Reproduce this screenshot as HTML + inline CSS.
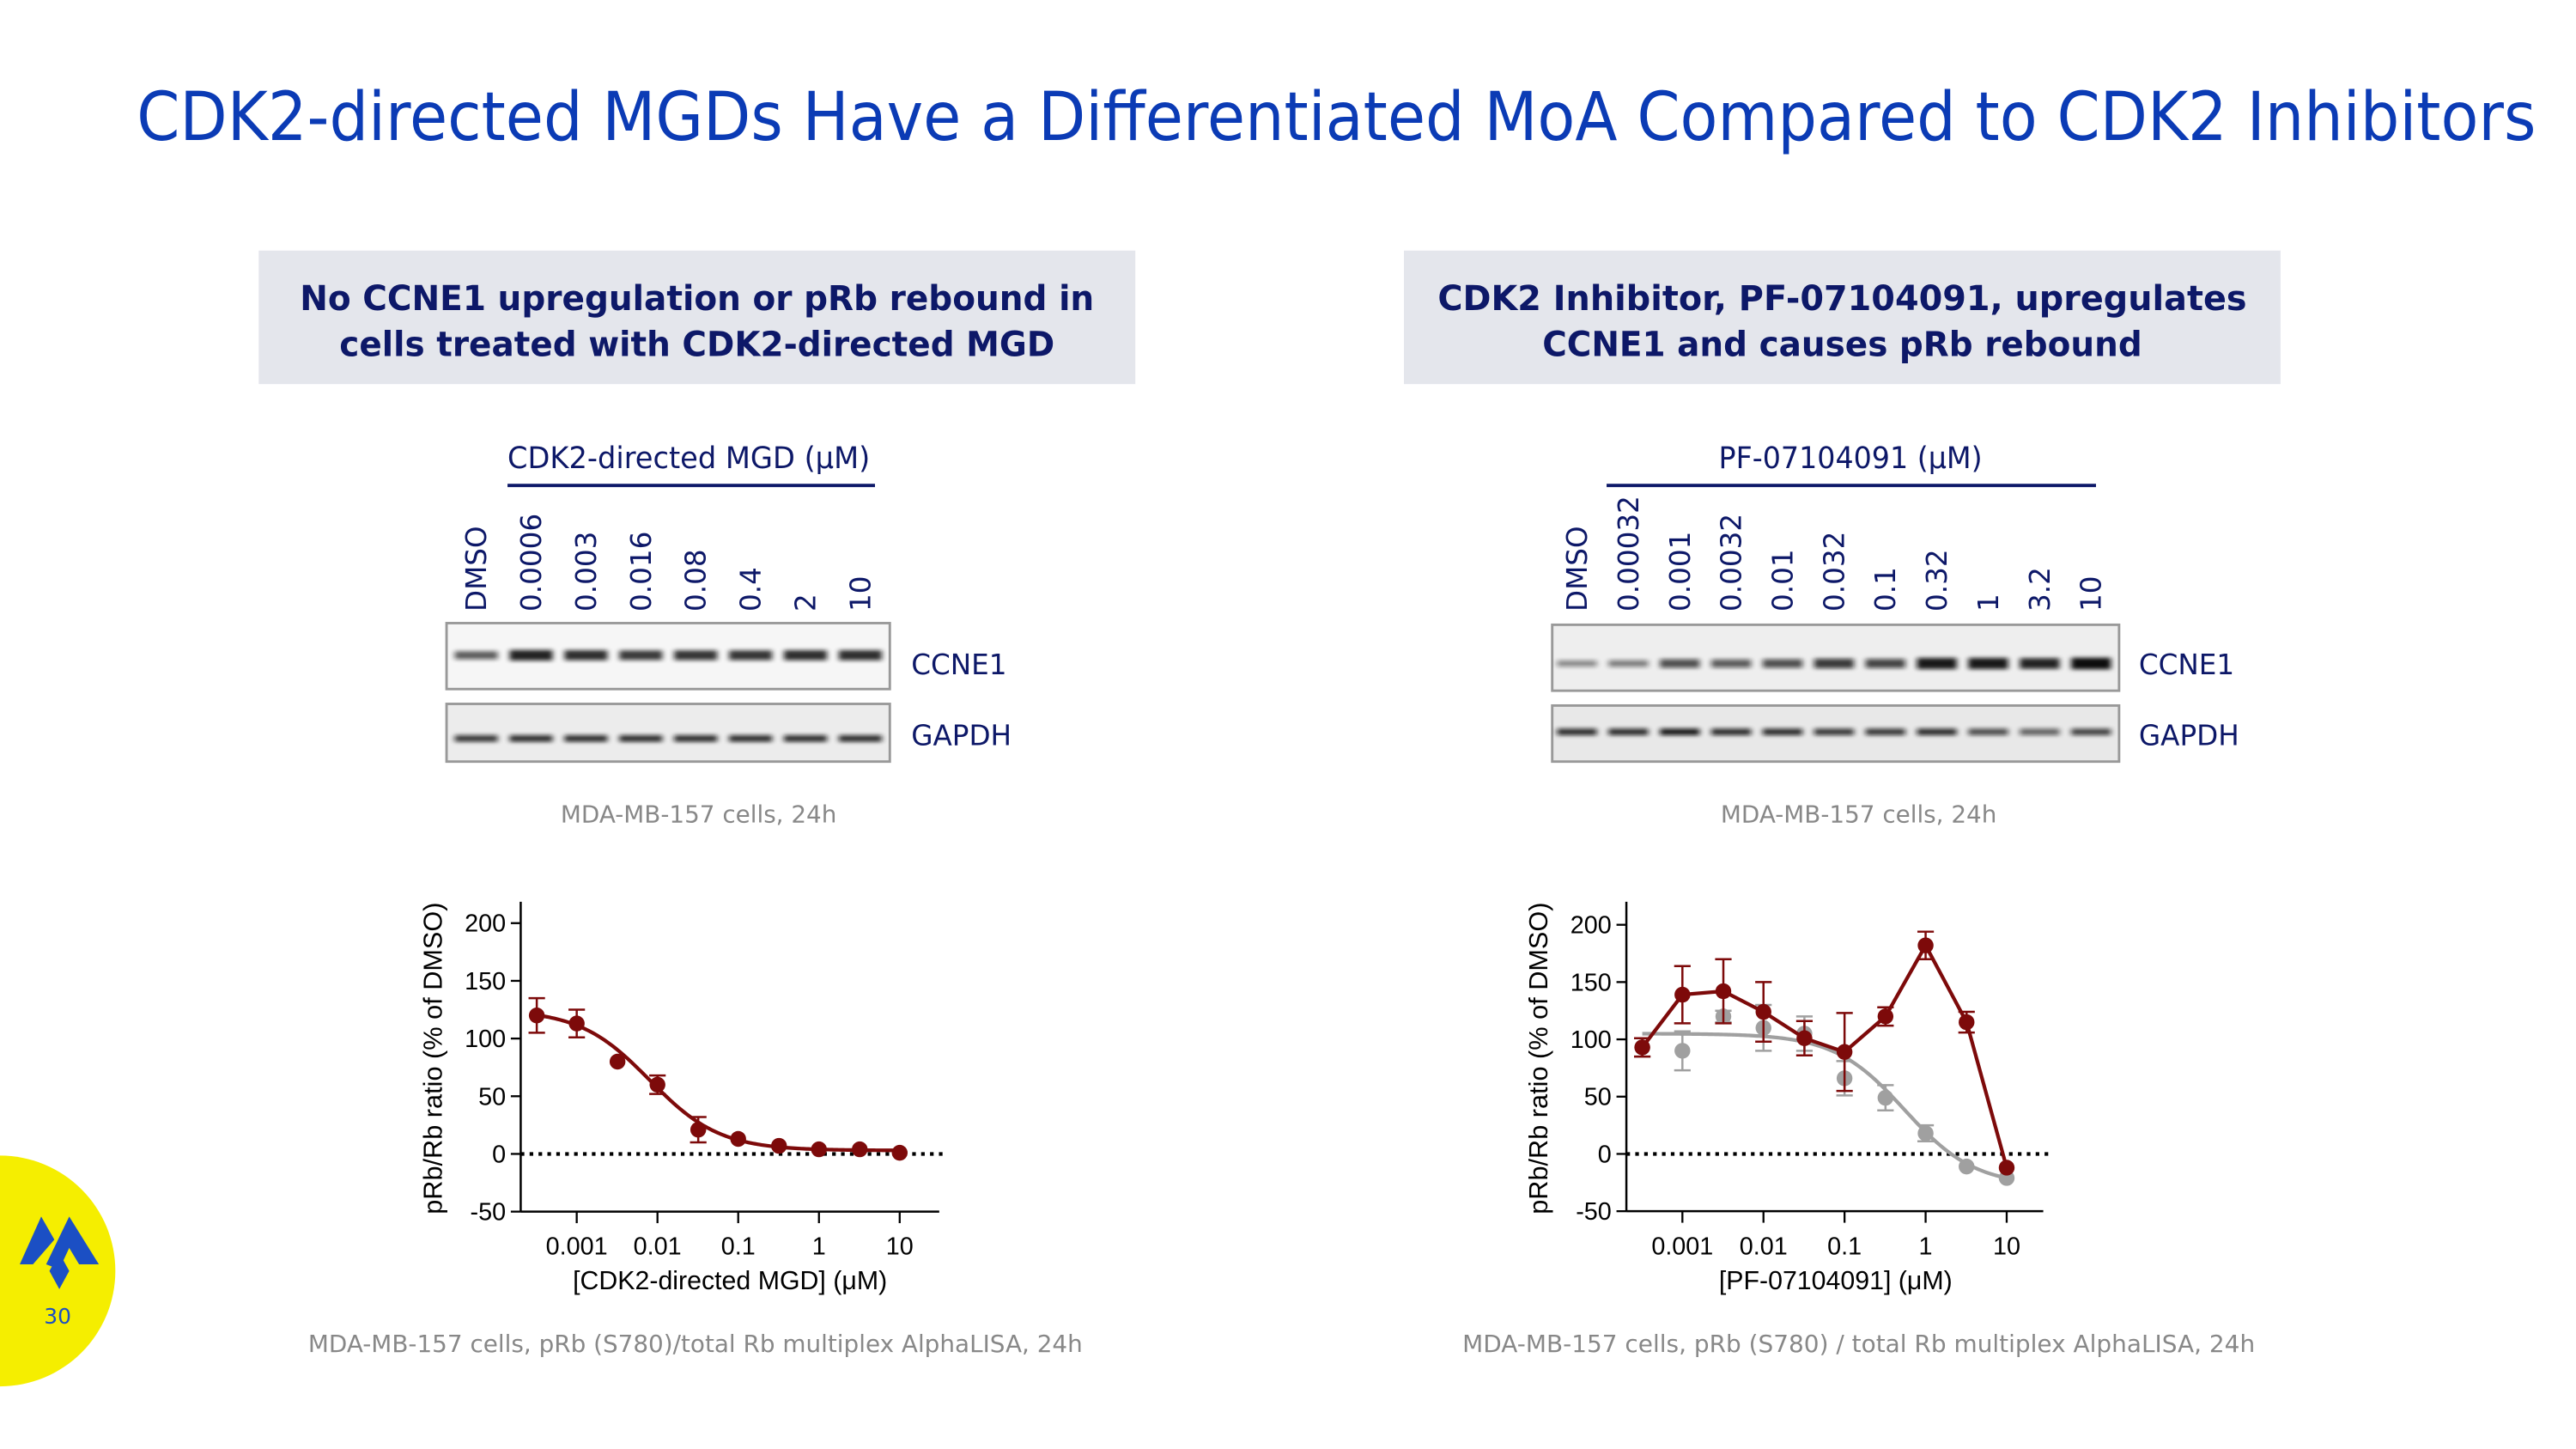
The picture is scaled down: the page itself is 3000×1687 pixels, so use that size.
<!DOCTYPE html>
<html><head><meta charset="utf-8"><style>
html,body{margin:0;padding:0;background:#fff;}
svg{display:block;}
.dv{font-family:"DejaVu Sans","Liberation Sans",sans-serif;}
.ls{font-family:"Liberation Sans",sans-serif;}
</style></head><body>
<svg id="page" width="3000" height="1687" viewBox="0 0 1563.3 879" preserveAspectRatio="none" xmlns="http://www.w3.org/2000/svg">
<defs>
<filter id="blur" x="-20%" y="-100%" width="140%" height="300%"><feGaussianBlur stdDeviation="1.6 1.2"/></filter>
</defs>
<rect width="1563.3" height="879" fill="#fff"/>
<text class="dv" x="83" y="85" font-size="41" fill="#0b3bb5" textLength="1456" lengthAdjust="spacingAndGlyphs">CDK2-directed MGDs Have a Differentiated MoA Compared to CDK2 Inhibitors</text>

<g>
<rect x="157" y="152" width="532" height="81" fill="#e4e6ec"/>
<text class="dv" x="423" y="188" font-size="21" font-weight="bold" fill="#0d1868" text-anchor="middle" textLength="482" lengthAdjust="spacingAndGlyphs">No CCNE1 upregulation or pRb rebound in</text>
<text class="dv" x="423" y="216" font-size="21" font-weight="bold" fill="#0d1868" text-anchor="middle" textLength="434" lengthAdjust="spacingAndGlyphs">cells treated with CDK2-directed MGD</text>
</g>
<g>
<rect x="852" y="152" width="532" height="81" fill="#e4e6ec"/>
<text class="dv" x="1118" y="188" font-size="21" font-weight="bold" fill="#0d1868" text-anchor="middle" textLength="491" lengthAdjust="spacingAndGlyphs">CDK2 Inhibitor, PF-07104091, upregulates</text>
<text class="dv" x="1118" y="216" font-size="21" font-weight="bold" fill="#0d1868" text-anchor="middle" textLength="364" lengthAdjust="spacingAndGlyphs">CCNE1 and causes pRb rebound</text>
</g>

<g id="blotL">
<text class="dv" x="418" y="284" font-size="18" fill="#0d1868" text-anchor="middle" textLength="220" lengthAdjust="spacingAndGlyphs">CDK2-directed MGD (μM)</text>
<line x1="308" y1="294.5" x2="531" y2="294.5" stroke="#0d1868" stroke-width="2"/>
<rect x="271" y="378" width="269" height="40" fill="#f6f6f6" stroke="#999" stroke-width="1.5"/>
<rect x="271" y="427" width="269" height="35" fill="#ececec" stroke="#999" stroke-width="1.5"/>
<text class="dv" x="553" y="409" font-size="17" fill="#0d1868">CCNE1</text>
<text class="dv" x="553" y="452" font-size="17" fill="#0d1868">GAPDH</text>
<text class="dv" x="424" y="499" font-size="14.5" fill="#888" text-anchor="middle">MDA-MB-157 cells, 24h</text>
</g>
<g id="blotR">
<text class="dv" x="1123" y="284" font-size="18" fill="#0d1868" text-anchor="middle" textLength="160" lengthAdjust="spacingAndGlyphs">PF-07104091 (μM)</text>
<line x1="975" y1="294.5" x2="1272" y2="294.5" stroke="#0d1868" stroke-width="2"/>
<rect x="942" y="379" width="344" height="40" fill="#eeeeee" stroke="#999" stroke-width="1.5"/>
<rect x="942" y="428" width="344" height="34" fill="#e8e8e8" stroke="#999" stroke-width="1.5"/>
<text class="dv" x="1298" y="409" font-size="17" fill="#0d1868">CCNE1</text>
<text class="dv" x="1298" y="452" font-size="17" fill="#0d1868">GAPDH</text>
<text class="dv" x="1128" y="499" font-size="14.5" fill="#888" text-anchor="middle">MDA-MB-157 cells, 24h</text>
</g>

<g id="chart1"></g>
<g id="chart2"></g>

<text class="dv" x="422" y="820" font-size="14.5" fill="#888" text-anchor="middle" textLength="470" lengthAdjust="spacingAndGlyphs">MDA-MB-157 cells, pRb (S780)/total Rb multiplex AlphaLISA, 24h</text>
<text class="dv" x="1128" y="820" font-size="14.5" fill="#888" text-anchor="middle" textLength="481" lengthAdjust="spacingAndGlyphs">MDA-MB-157 cells, pRb (S780) / total Rb multiplex AlphaLISA, 24h</text>

<g>
<circle cx="0" cy="771" r="70" fill="#f5ee00"/>
<polygon points="12,767 25,738 33,752 20,767" fill="#1b4fc4"/>
<polygon points="28,767 42,738 60,767 48,767 42,757 36,770" fill="#1b4fc4"/>
<polygon points="30,771 36,760 42,771 36,782" fill="#1b4fc4"/>
<text class="dv" x="35" y="803" font-size="13" fill="#1b4fc4" text-anchor="middle">30</text>
</g>
</svg>
<script>
// ---------- blot data ----------
const lanesL = ["DMSO","0.0006","0.003","0.016","0.08","0.4","2","10"];
const ccne1L = [0.65,0.9,0.85,0.8,0.82,0.82,0.85,0.85];
const gapdhL = [0.8,0.85,0.85,0.85,0.85,0.85,0.85,0.85];
const lanesR = ["DMSO","0.00032","0.001","0.0032","0.01","0.032","0.1","0.32","1","3.2","10"];
const ccne1R = [0.45,0.5,0.7,0.65,0.7,0.8,0.75,0.95,0.95,0.9,1.0];
const gapdhR = [0.85,0.85,0.95,0.85,0.85,0.8,0.8,0.85,0.7,0.6,0.75];

// ---------- chart data ----------
const doses = [0.00032,0.001,0.0032,0.01,0.032,0.1,0.32,1,3.2,10];
const yTicks = [200,150,100,50,0,-50];
const xTicks = [0.001,0.01,0.1,1,10];
const xTickLabels = ["0.001","0.01","0.1","1","10"];
const mgdMean = [120,113,80,60,21,13,7,4,4,1];
const mgdErr  = [15,12,0,8,11,0,0,0,0,0];
const mgdFit  = [125,3,0.008,1.0]; // top, bottom, IC50, hill
const h2Mean = [93,90,120,110,105,66,49,18,-11,-21];
const h2Err  = [8,17,5,20,15,15,11,7,0,0];
const h2Fit  = [105,-28,0.55,1.0];
const h24Mean = [93,139,142,124,101,89,120,182,115,-12];
const h24Err  = [8,25,28,26,15,34,8,12,9,0];

const NS="http://www.w3.org/2000/svg";
function mk(parent,tag,attrs){const e=document.createElementNS(NS,tag);for(const k in attrs)e.setAttribute(k,attrs[k]);parent.appendChild(e);return e;}

function drawBlot(g,lanes,ccne,gap,x0,dx,yLab,yC,yG,bw){
  lanes.forEach((l,i)=>{
    const x=x0+i*dx;
    const t=mk(g,'text',{x:x+6,y:yLab,'font-size':17,fill:'#0d1868',class:'dv',transform:`rotate(-90 ${x+6} ${yLab})`});
    t.textContent=l;
    
    
    const b=mk(g,'rect',{x:x-bw/2,y:yC-ccne[i]*3,width:bw,height:ccne[i]*6+1,fill:'#111',opacity:ccne[i],filter:'url(#blur)'});
    
    
    const c=mk(g,'rect',{x:x-bw/2,y:yG-2,width:bw,height:4,fill:'#111',opacity:gap[i],filter:'url(#blur)'});
    
    
  });
}
drawBlot(document.getElementById('blotL'),lanesL,ccne1L,gapdhL,289,33.3,371,397,448,26);
drawBlot(document.getElementById('blotR'),lanesR,ccne1R,gapdhR,957,31.2,371,402,444,24);

function chart(g,ax,title,series,fits,legend){
  const X=v=>ax.x0+(Math.log10(v)+3)*ax.dec;
  const Y=v=>ax.y0-v*ax.py;
  const yaxis=mk(g,'line',{x1:ax.xa,y1:547,x2:ax.xa,y2:Y(-50),stroke:'#000','stroke-width':1.3});
  
  
  const xaxis=mk(g,'line',{x1:ax.xa,y1:Y(-50),x2:ax.xr,y2:Y(-50),stroke:'#000','stroke-width':1.3});
  
  
  yTicks.forEach(v=>{
    mk(g,'line',{x1:ax.xa-6,y1:Y(v),x2:ax.xa,y2:Y(v),stroke:'#000','stroke-width':1.2});
    const t=mk(g,'text',{x:ax.xa-9,y:Y(v)+5.2,'font-size':15,'text-anchor':'end',class:'ls'});
    t.textContent=v;
    
    
  });
  xTicks.forEach((v,i)=>{
    mk(g,'line',{x1:X(v),y1:Y(-50),x2:X(v),y2:Y(-50)+7,stroke:'#000','stroke-width':1.2});
    const t=mk(g,'text',{x:X(v),y:761,'font-size':15,'text-anchor':'middle',class:'ls'});
    t.textContent=xTickLabels[i];
    
    
  });
  const zl=mk(g,'line',{x1:ax.xa,y1:Y(0),x2:ax.xr+4,y2:Y(0),stroke:'#000','stroke-width':2.2,'stroke-dasharray':'2.2 3.2'});
  
  
  const yt=mk(g,'text',{x:ax.xa-48,y:642,'font-size':16,'text-anchor':'middle',class:'ls',transform:`rotate(-90 ${ax.xa-48} 642)`});
  yt.textContent='pRb/Rb ratio (% of DMSO)';
  
  
  const xt=mk(g,'text',{x:ax.xt,y:782,'font-size':15.8,'text-anchor':'middle',class:'ls'});
  xt.textContent=title;
  
  
  series.forEach(s=>{
    if(s.fit){
      const [top,bot,ic,h]=s.fit;let d='';
      for(let lx=Math.log10(doses[0]);lx<=1.0001;lx+=0.02){
        const v=bot+(top-bot)/(1+Math.pow(Math.pow(10,lx)/ic,h));
        d+=(d?'L':'M')+X(Math.pow(10,lx)).toFixed(2)+','+Y(v).toFixed(2);
      }
      const p=mk(g,'path',{d,fill:'none',stroke:s.color,'stroke-width':2.2});
      
      
    } else {
      const d=doses.map((x,i)=>(i?'L':'M')+X(x)+','+Y(s.mean[i])).join('');
      const p=mk(g,'path',{d,fill:'none',stroke:s.color,'stroke-width':2.2});
      
      
    }
    doses.forEach((x,i)=>{
      const e=s.err[i];
      if(e>0){
        const eb=mk(g,'path',{d:`M${X(x)},${Y(s.mean[i]+e)}V${Y(s.mean[i]-e)}M${X(x)-5},${Y(s.mean[i]+e)}h10M${X(x)-5},${Y(s.mean[i]-e)}h10`,stroke:s.color,'stroke-width':1.3,fill:'none'});
        
        
      }
      const c=mk(g,'circle',{cx:X(x),cy:Y(s.mean[i]),r:4.8,fill:s.color});
      
      
    });
  });
  if(legend){
    legend.forEach((s,i)=>{
      const y=561+i*33;
      const lg=mk(g,'g',{});
      
      
      mk(lg,'line',{x1:1243,y1:y,x2:1270,y2:y,stroke:s.color,'stroke-width':2.5});
      mk(lg,'circle',{cx:1256.5,cy:y,r:4.8,fill:s.color});
      const t=mk(lg,'text',{x:1283,y:y+5.5,'font-size':15.5,class:'ls'});
      t.textContent=s.label;
    });
  }
}
const red='#7d0a0a', gray='#a0a0a0';
chart(document.getElementById('chart1'),{x0:350,dec:49,y0:700,py:0.7,xa:316,xr:570,xt:443},
  '[CDK2-directed MGD] (μM)',[{name:'mgd',mean:mgdMean,err:mgdErr,fit:mgdFit,color:red}]);
const s2={name:'two-hours',mean:h2Mean,err:h2Err,fit:h2Fit,color:gray,label:'2 hours'};
const s24={name:'twentyfour-hours',mean:h24Mean,err:h24Err,color:red,label:'24 hours'};
chart(document.getElementById('chart2'),{x0:1021,dec:49.2,y0:700,py:0.695,xa:987,xr:1240,xt:1114},
  '[PF-07104091] (μM)',[s2,s24],[s2,s24]);
</script>
</body></html>
